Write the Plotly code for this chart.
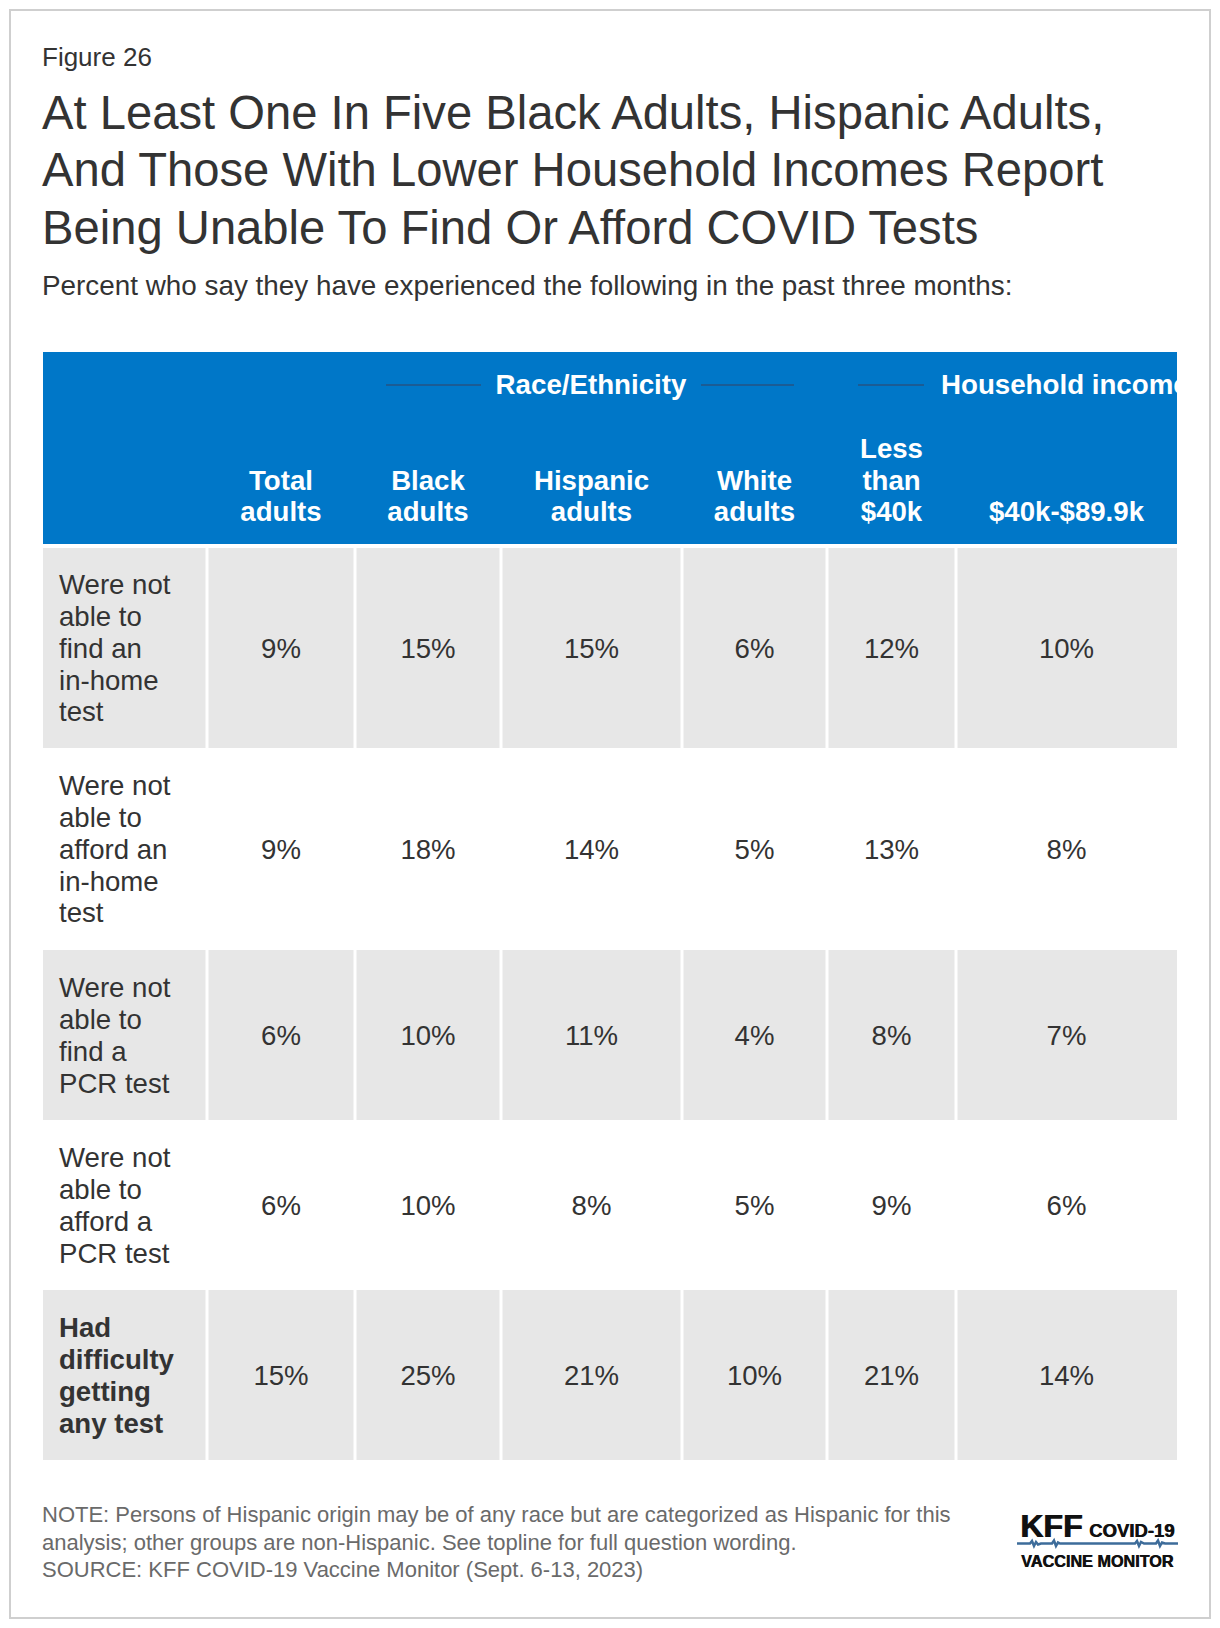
import plotly.graph_objects as go

# ---------------- data ----------------
COLUMNS = ["Total<br>adults", "Black<br>adults", "Hispanic<br>adults",
           "White<br>adults", "Less<br>than<br>$40k", "$40k-$89.9k"]
GROUPS = ["Race/Ethnicity", "Household income"]
ROW_LABELS = [
    "Were not<br>able to<br>find an<br>in-home<br>test",
    "Were not<br>able to<br>afford an<br>in-home<br>test",
    "Were not<br>able to<br>find a<br>PCR test",
    "Were not<br>able to<br>afford a<br>PCR test",
    "Had<br>difficulty<br>getting<br>any test",
]
TOTAL_ADULTS = [9, 9, 6, 6, 15]
BLACK_ADULTS = [15, 18, 10, 10, 25]
HISPANIC_ADULTS = [15, 14, 11, 8, 21]
WHITE_ADULTS = [6, 5, 4, 5, 10]
LESS_THAN_40K = [12, 13, 8, 9, 21]
INC_40K_89K = [10, 8, 7, 6, 14]
SERIES = [TOTAL_ADULTS, BLACK_ADULTS, HISPANIC_ADULTS, WHITE_ADULTS,
          LESS_THAN_40K, INC_40K_89K]

TITLE_LINES = ["At Least One In Five Black Adults, Hispanic Adults,",
               "And Those With Lower Household Incomes Report",
               "Being Unable To Find Or Afford COVID Tests"]
SUBTITLE = "Percent who say they have experienced the following in the past three months:"
NOTE_LINES = ["NOTE: Persons of Hispanic origin may be of any race but are categorized as Hispanic for this",
              "analysis; other groups are non-Hispanic. See topline for full question wording.",
              "SOURCE: KFF COVID-19 Vaccine Monitor (Sept. 6-13, 2023)"]

# ---------------- layout / style ----------------
W, H = 1220, 1628
PLOT_RIGHT = 1178
FONT = "Arial, Liberation Sans, Helvetica, sans-serif"
DARK = "#333333"
BLUE = "#0077c8"
LINE_BLUE = "#1b5c95"
GRAY = "#e7e7e7"
NOTE_GRAY = "#6a6a6a"

COL_EDGES = [43, 207, 355, 501, 682, 827, 956, 1177]
ROW_EDGES = [548, 748, 950, 1120, 1290, 1460]
HEAD_TOP, HEAD_BOTTOM = 352, 544
GAP = 1.5
BODY_FS = 27.6
HEAD_FS = 27.6
LINE_H = 31.8
LABEL_X = 59
HEAD_LAST_BASELINE = 521.5
GROUP_BASELINE = 393.5
GROUP_Y_LINE = 385
GROUP_FS = 27.7


def y_for_baseline(b, fs):
    # scatter text 'middle' puts the baseline 0.25*fs below the point
    return b - 0.25 * fs


def px(x):
    return x / W


def py(y):
    return 1 - y / H


fig = go.Figure()
shapes = []

# outer border
shapes.append(dict(type="rect", xref="paper", yref="paper",
                   x0=px(10), x1=px(1210), y0=py(10), y1=py(1618),
                   line=dict(color="#cfcfcf", width=2), fillcolor="rgba(0,0,0,0)",
                   layer="below"))

# header block
shapes.append(dict(type="rect", xref="x", yref="y",
                   x0=COL_EDGES[0], x1=COL_EDGES[-1], y0=HEAD_TOP, y1=HEAD_BOTTOM,
                   line=dict(width=0), fillcolor=BLUE, layer="below"))

# body cells (alternating gray / white rows, white gutters between cells)
ncols = len(COL_EDGES) - 1
for r in range(len(ROW_LABELS)):
    if r % 2 == 1:
        continue
    for c in range(ncols):
        x0 = COL_EDGES[c] + (GAP if c > 0 else 0)
        x1 = COL_EDGES[c + 1] - (GAP if c < ncols - 1 else 0)
        shapes.append(dict(type="rect", xref="x", yref="y",
                           x0=x0, x1=x1, y0=ROW_EDGES[r], y1=ROW_EDGES[r + 1],
                           line=dict(width=0), fillcolor=GRAY, layer="below"))

# group header rules
race_l, race_r = COL_EDGES[2], COL_EDGES[5]
race_c = (race_l + race_r) / 2
half_text = 95
for a, b in [(race_l + 31, race_c - half_text - 15), (race_c + half_text + 15, race_r - 33)]:
    shapes.append(dict(type="line", xref="x", yref="y", x0=a, x1=b,
                       y0=GROUP_Y_LINE, y1=GROUP_Y_LINE,
                       line=dict(color=LINE_BLUE, width=2)))
inc_l = COL_EDGES[5]
shapes.append(dict(type="line", xref="x", yref="y", x0=inc_l + 31, x1=inc_l + 97,
                   y0=GROUP_Y_LINE, y1=GROUP_Y_LINE,
                   line=dict(color=LINE_BLUE, width=2)))

# ---- values ----
for c, (name, vals) in enumerate(zip(COLUMNS, SERIES)):
    xc = (COL_EDGES[c + 1] + COL_EDGES[c + 2]) / 2
    xs, ys, ts = [], [], []
    for r, v in enumerate(vals):
        mid = (ROW_EDGES[r] + ROW_EDGES[r + 1]) / 2
        base = mid + 0.358 * BODY_FS
        xs.append(xc)
        ys.append(y_for_baseline(base, BODY_FS))
        ts.append(f"{v}%")
    fig.add_trace(go.Scatter(x=xs, y=ys, text=ts, mode="text",
                             textposition="middle center",
                             textfont=dict(family=FONT, size=BODY_FS, color=DARK),
                             name=name.replace("<br>", " "), hoverinfo="skip",
                             showlegend=False))

# ---- row labels (line by line) ----
for r, lab in enumerate(ROW_LABELS):
    lines = lab.split("<br>")
    n = len(lines)
    mid = (ROW_EDGES[r] + ROW_EDGES[r + 1]) / 2
    b1 = mid + 0.358 * BODY_FS - (n - 1) * LINE_H / 2
    bold = r == len(ROW_LABELS) - 1
    fig.add_trace(go.Scatter(
        x=[LABEL_X] * n,
        y=[y_for_baseline(b1 + i * LINE_H, BODY_FS) for i in range(n)],
        text=lines, mode="text", textposition="middle right",
        textfont=dict(family=FONT, size=BODY_FS, color=DARK,
                      weight="bold" if bold else "normal"),
        hoverinfo="skip", showlegend=False))

# ---- column headers (bottom aligned) ----
hx, hy, ht = [], [], []
for c, name in enumerate(COLUMNS):
    xc = (COL_EDGES[c + 1] + COL_EDGES[c + 2]) / 2
    lines = name.split("<br>")
    n = len(lines)
    for i, ln in enumerate(lines):
        b = HEAD_LAST_BASELINE - (n - 1 - i) * LINE_H
        hx.append(xc)
        hy.append(y_for_baseline(b, HEAD_FS))
        ht.append(ln)
fig.add_trace(go.Scatter(x=hx, y=hy, text=ht, mode="text",
                         textposition="middle center",
                         textfont=dict(family=FONT, size=HEAD_FS, color="white", weight="bold"),
                         hoverinfo="skip", showlegend=False))

# ---- group headers ----
fig.add_trace(go.Scatter(x=[race_c], y=[y_for_baseline(GROUP_BASELINE, GROUP_FS)],
                         text=[GROUPS[0]], mode="text", textposition="middle center",
                         textfont=dict(family=FONT, size=GROUP_FS, color="white", weight="bold"),
                         hoverinfo="skip", showlegend=False))
fig.add_trace(go.Scatter(x=[inc_l + 114], y=[y_for_baseline(GROUP_BASELINE, GROUP_FS)],
                         text=[GROUPS[1]], mode="text", textposition="middle right",
                         textfont=dict(family=FONT, size=GROUP_FS, color="white", weight="bold"),
                         cliponaxis=True, hoverinfo="skip", showlegend=False))

# ---- annotations (title, notes, logo) ----
annotations = []


def add_text(text, x, baseline, size, color, weight="normal", family=FONT, shadow=None):
    font = dict(family=family, size=size, color=color, weight=weight)
    if shadow:
        font["shadow"] = shadow
    annotations.append(dict(
        text=text, xref="paper", yref="paper", x=px(x),
        y=py(baseline - 0.905 * size), xanchor="left", yanchor="top",
        showarrow=False, borderpad=0, borderwidth=0, font=font))


add_text("Figure 26", 42, 66, 26, DARK)
for i, t in enumerate(TITLE_LINES):
    add_text(t, 42, 128.3 + i * 57.6, 47.2, DARK)
add_text(SUBTITLE, 42, 295, 27.85, DARK)
for i, t in enumerate(NOTE_LINES):
    add_text(t, 42, 1522 + i * 27.7, 22, NOTE_GRAY)

# logo
add_text("KFF", 1020, 1537, 32, "#111111", "bold", shadow="1px 0px 0px #111111")
add_text("COVID-19", 1089, 1537, 18.5, "#111111", "bold", shadow="0.6px 0px 0px #111111")
add_text("VACCINE MONITOR", 1021, 1567, 16.2, "#111111", "bold", shadow="0.6px 0px 0px #111111")
wave = [(1017, 1543.5), (1030, 1543.5), (1032, 1541), (1034, 1546), (1036, 1542),
        (1038, 1544.5), (1041, 1543.5), (1052, 1543.5), (1054, 1540.5), (1056, 1546),
        (1058, 1542.5), (1060, 1543.5), (1135, 1543.5), (1137, 1541), (1139, 1546),
        (1141, 1542), (1144, 1543.5), (1156, 1543.5), (1158, 1540.5), (1160, 1546),
        (1162, 1542.5), (1165, 1543.5), (1178, 1543.5)]
path = "M " + " L ".join(f"{px(x):.5f},{py(y):.5f}" for x, y in wave)
shapes.append(dict(type="path", xref="paper", yref="paper", path=path,
                   line=dict(color="#3d6c9a", width=2.5)))

fig.update_layout(
    width=W, height=H,
    margin=dict(l=0, r=0, t=0, b=0),
    paper_bgcolor="white", plot_bgcolor="white",
    shapes=shapes, annotations=annotations,
    xaxis=dict(range=[0, PLOT_RIGHT], domain=[0, PLOT_RIGHT / W], visible=False,
               showgrid=False, zeroline=False, fixedrange=True),
    yaxis=dict(range=[H, 0], domain=[0, 1], visible=False,
               showgrid=False, zeroline=False, fixedrange=True),
    showlegend=False,
)

fig.write_html("out.html", config={"displayModeBar": False},
               post_script="document.body.style.margin='0';document.body.style.overflow='hidden';")
